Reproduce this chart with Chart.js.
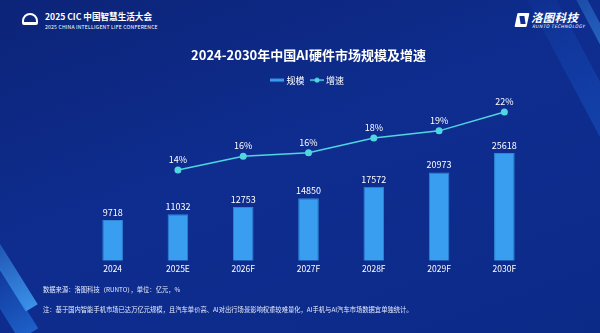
<!DOCTYPE html>
<html>
<head>
<meta charset="utf-8">
<script src="https://cdn.jsdelivr.net/npm/chart.js@4/dist/chart.umd.min.js"></script>
<style>
    html, body { margin: 0; padding: 0; }
    body {
        width: 600px; height: 333px; overflow: hidden; position: relative;
        background: linear-gradient(160deg, #0c2478 0%, #0e2d8f 45%, #0b2a88 100%);
        font-family: "Noto Sans CJK SC", "Noto Sans", sans-serif; color: #fff;
    }
    .stripe { position: absolute; pointer-events: none; }
    #s1 { left: -60px; top: 250px; width: 120px; height: 14px; transform: rotate(58deg);
          background: linear-gradient(90deg, rgba(60,160,255,0), rgba(70,170,255,0.8)); }
    #s2 { left: -40px; top: 285px; width: 90px; height: 22px; transform: rotate(58deg);
          background: linear-gradient(90deg, rgba(40,120,230,0), rgba(40,130,240,0.6)); }
    #s3 { left: 520px; top: 10px; width: 140px; height: 10px; transform: rotate(62deg);
          background: linear-gradient(90deg, rgba(60,160,255,0.1), rgba(70,170,255,0.55)); }
    #s4 { left: 470px; top: 40px; width: 200px; height: 26px; transform: rotate(62deg);
          background: linear-gradient(90deg, rgba(40,120,230,0), rgba(30,110,230,0.35)); }
    .hd { position: absolute; white-space: nowrap; }
    #cicTitle { left: 45px; top: 10px; font-size: 8.6px; font-weight: bold; }
    #cicSub { left: 45px; top: 23px; font-size: 5.1px; letter-spacing: 0.2px; }
    #cicLogo { left: 22px; top: 13px; width: 16px; height: 12px; border-radius: 8px 8px 2px 2px;
               border: 2px solid #fff; border-bottom-width: 3px; box-sizing: border-box; }
    #runtoK { left: 516px; top: 13px; width: 12px; height: 14px; background: #fff;
              transform: skewX(-12deg); border-radius: 1px; }
    #runtoK::after { content: ""; position: absolute; left: 4px; top: 3px; width: 5px; height: 8px;
                     background: #0e2d8f; transform: skewX(20deg); }
    #runtoName { left: 531px; top: 9px; font-size: 11.5px; font-weight: bold; font-style: italic; letter-spacing: 0.3px; }
    #runtoSub { left: 532px; top: 23px; font-size: 4.6px; font-style: italic; letter-spacing: 0.4px; }
    .note { position: absolute; left: 43px; font-size: 6.3px; white-space: nowrap; color: #e6ecff; }
    #chartBox { position: absolute; left: 0; top: 0; width: 600px; height: 333px; }
</style>
</head>
<body>
<div class="stripe" id="s1"></div>
<div class="stripe" id="s2"></div>
<div class="stripe" id="s3"></div>
<div class="stripe" id="s4"></div>

<div class="hd" id="cicLogo"></div>
<div class="hd" id="cicTitle">2025 CIC 中国智慧生活大会</div>
<div class="hd" id="cicSub">2025 CHINA INTELLIGENT LIFE CONFERENCE</div>
<div class="hd" id="runtoK"></div>
<div class="hd" id="runtoName">洛图科技</div>
<div class="hd" id="runtoSub">RUNTO TECHNOLOGY</div>

<div id="chartBox"><canvas id="myChart" width="600" height="333"></canvas></div>

<div class="note" style="top: 285px;">数据来源：洛图科技（RUNTO），单位：亿元，%</div>
<div class="note" style="top: 305px;">注：基于国内智能手机市场已达万亿元规模，且汽车单价高、AI对出行场景影响权重较难量化，AI手机与AI汽车市场数据宜单独统计。</div>

<script>
// Dữ liệu biểu đồ
const years = ["2024", "2025E", "2026F", "2027F", "2028F", "2029F", "2030F"];
const marketSize = [9718, 11032, 12753, 14850, 17572, 20973, 25618];
const growthRate = [null, 14, 15.9, 16.4, 18.4, 19.4, 22];
const growthLabels = ["", "14%", "16%", "16%", "18%", "19%", "22%"];

const barColor = "#3a9ef0";
const lineColor = "#4fd6e0";

// Tạo ký hiệu legend bằng canvas nhỏ
function legendIcon(type) {
    let c = document.createElement("canvas");
    c.width = 14; c.height = 8;
    let ctx = c.getContext("2d");
    if (type === "bar") {
        ctx.fillStyle = barColor;
        ctx.fillRect(0, 2.5, 14, 3);
    } else {
        ctx.strokeStyle = lineColor;
        ctx.lineWidth = 1.5;
        ctx.beginPath();
        ctx.moveTo(0, 4); ctx.lineTo(14, 4);
        ctx.stroke();
        ctx.fillStyle = lineColor;
        ctx.beginPath();
        ctx.arc(7, 4, 2.5, 0, Math.PI * 2);
        ctx.fill();
    }
    return c;
}

// Vẽ nhãn giá trị trên cột và điểm
const valueLabels = {
    id: "valueLabels",
    afterDatasetsDraw(chart) {
        let ctx = chart.ctx;
        ctx.save();
        ctx.fillStyle = "#ffffff";
        ctx.font = "9px 'Noto Sans CJK SC', sans-serif";
        ctx.textAlign = "center";
        ctx.textBaseline = "bottom";
        chart.getDatasetMeta(0).data.forEach(function(bar, i) {
            ctx.fillText(String(marketSize[i]), bar.x, bar.y - 3);
        });
        chart.getDatasetMeta(1).data.forEach(function(pt, i) {
            if (growthRate[i] === null) return;
            ctx.fillText(growthLabels[i], pt.x, pt.y - 6);
        });
        ctx.restore();
    }
};

const data = {
    labels: years,
    datasets: [
        {
            type: "bar",
            label: "规模",
            data: marketSize,
            backgroundColor: barColor,
            borderColor: "#2f86d6",
            borderWidth: 1,
            barPercentage: 0.316,
            categoryPercentage: 1,
            yAxisID: "y",
            order: 2
        },
        {
            type: "line",
            label: "增速",
            data: growthRate,
            borderColor: lineColor,
            backgroundColor: lineColor,
            borderWidth: 1.5,
            pointRadius: 3.5,
            pointBackgroundColor: lineColor,
            pointBorderWidth: 0,
            tension: 0,
            yAxisID: "y1",
            order: 1
        }
    ]
};

const config = {
    type: "bar",
    data: data,
    plugins: [valueLabels],
    options: {
        responsive: false,
        animation: false,
        layout: { padding: { left: 80, right: 63, top: 47, bottom: 56 } },
        plugins: {
            title: {
                display: true,
                text: "2024-2030年中国AI硬件市场规模及增速",
                color: "#ffffff",
                font: { family: "'Noto Sans CJK SC', sans-serif", size: 13, weight: "bold" },
                padding: { top: 0, bottom: 5 }
            },
            legend: {
                display: true,
                labels: {
                    color: "#ffffff",
                    font: { family: "'Noto Sans CJK SC', sans-serif", size: 9 },
                    usePointStyle: true,
                    boxWidth: 14,
                    boxHeight: 8,
                    padding: 8,
                    generateLabels: function(chart) {
                        return chart.data.datasets.map(function(ds, i) {
                            return {
                                text: ds.label,
                                fontColor: "#ffffff",
                                pointStyle: legendIcon(i === 0 ? "bar" : "line"),
                                datasetIndex: i,
                                lineWidth: 0
                            };
                        });
                    }
                }
            },
            tooltip: { enabled: false }
        },
        scales: {
            x: {
                grid: { display: false, drawTicks: false },
                border: { display: false },
                ticks: {
                    color: "#ffffff",
                    font: { family: "'Noto Sans CJK SC', sans-serif", size: 8.5 },
                    padding: 3
                }
            },
            y: { display: false, min: 0, max: 39470 },
            y1: { display: false, min: 1.51, max: 24.39 }
        }
    }
};

let context = document.getElementById("myChart").getContext("2d");
new Chart(context, config);
</script>
</body>
</html>
